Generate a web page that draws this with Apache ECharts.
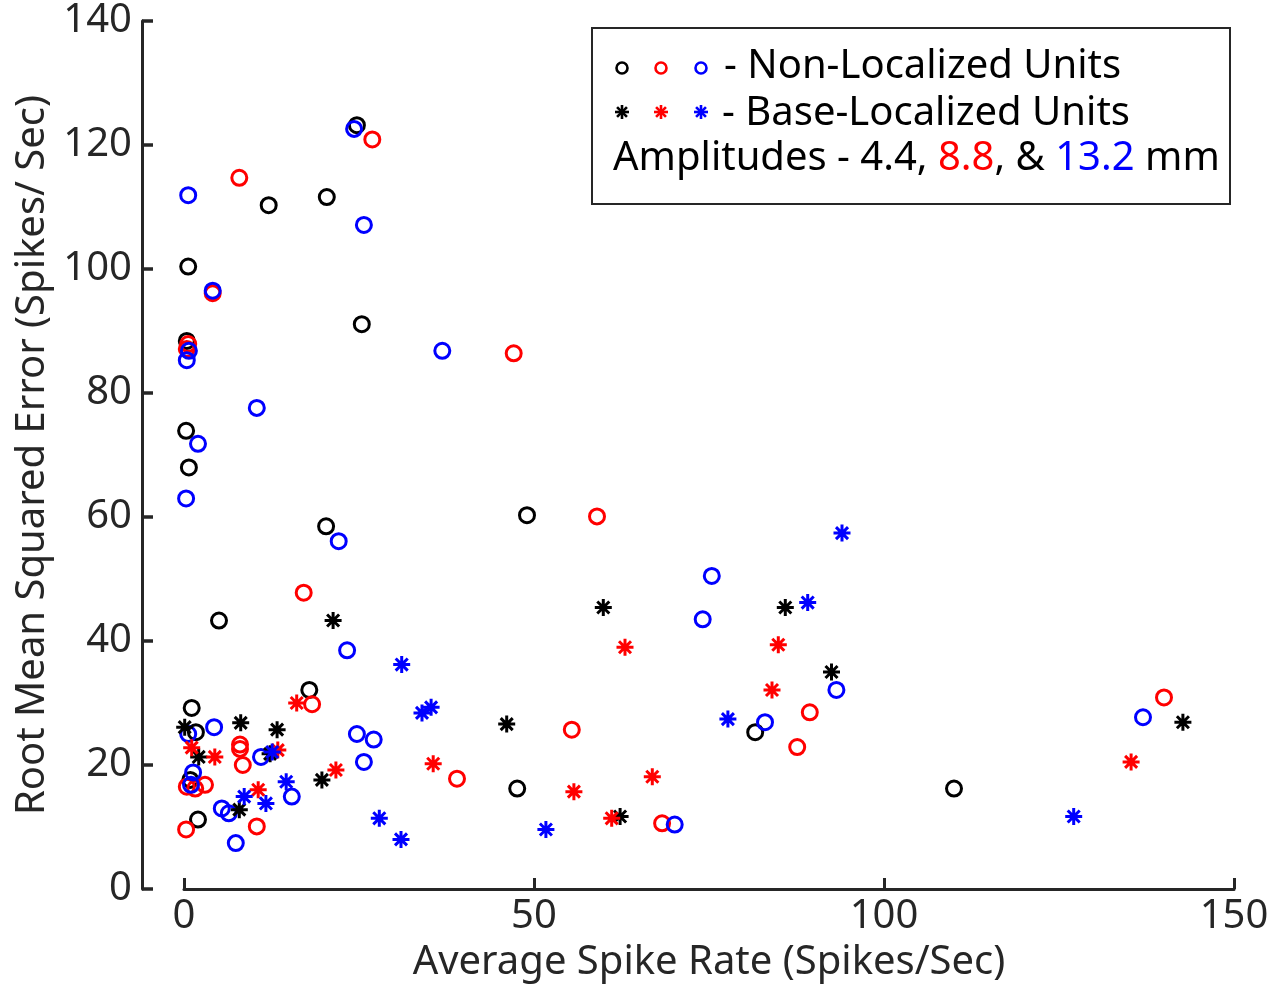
<!DOCTYPE html>
<html><head><meta charset="utf-8">
<script src="https://cdn.jsdelivr.net/npm/echarts@6/dist/echarts.min.js"></script>
<style>html,body{margin:0;padding:0;background:#fff}#c{width:1273px;height:988px}</style>
</head><body><div id="c"></div>
<script>
// ---- chart data ----
const xAxisName = 'Average Spike Rate (Spikes/Sec)';
const yAxisName = 'Root Mean Squared Error (Spikes/ Sec)';
const xMin = 0, xMax = 150, xStep = 50;
const yMin = 0, yMax = 140, yStep = 20;

// Non-Localized Units (circles), amplitude 4.4 / 8.8 / 13.2 mm
const nonLoc44 = [[24.7,123.2],[12.1,110.3],[20.4,111.6],[0.6,100.4],[25.4,91.1],[0.4,88.4],[0.3,73.9],[0.7,68.0],[20.3,58.5],[49.0,60.3],[5.0,43.3],[17.9,32.1],[1.1,29.2],[1.7,25.3],[81.6,25.3],[0.9,17.6],[2.0,11.2],[47.6,16.2],[110.0,16.2]];
const nonLoc88 = [[26.9,120.9],[7.9,114.7],[4.1,96.1],[0.6,87.9],[0.4,87.1],[47.1,86.4],[59.0,60.1],[17.1,47.8],[18.3,29.8],[8.0,23.3],[8.0,22.6],[8.4,20.0],[55.4,25.7],[39.0,17.8],[89.4,28.5],[87.6,22.9],[140.0,30.9],[68.3,10.6],[10.4,10.1],[0.3,9.6],[0.4,16.5],[1.6,16.2],[3.0,16.8]];
const nonLoc132 = [[24.3,122.6],[0.6,111.9],[25.7,107.1],[4.1,96.5],[36.9,86.8],[0.7,86.8],[0.4,85.3],[10.4,77.6],[2.0,71.8],[0.3,63.0],[22.1,56.1],[75.4,50.5],[74.1,43.5],[23.3,38.5],[0.6,25.0],[4.3,26.1],[24.7,25.0],[27.1,24.1],[25.7,20.5],[11.0,21.3],[93.2,32.1],[83.0,26.9],[137.0,27.7],[70.1,10.4],[15.4,14.9],[1.3,18.8],[1.0,16.8],[5.4,13.0],[6.4,12.2],[7.4,7.4]];

// Base-Localized Units (asterisks), amplitude 4.4 / 8.8 / 13.2 mm
const baseLoc44 = [[21.3,43.3],[59.9,45.4],[85.9,45.4],[92.5,35.0],[142.7,26.9],[46.1,26.6],[8.1,26.8],[13.3,25.7],[0.1,26.1],[2.1,21.3],[12.3,21.8],[19.7,17.6],[7.9,12.8],[62.3,11.7]];
const baseLoc88 = [[63.0,39.0],[84.9,39.4],[84.0,32.1],[66.9,18.1],[55.7,15.7],[61.1,11.4],[135.3,20.5],[35.6,20.2],[21.7,19.2],[16.1,30.0],[13.4,22.4],[10.6,16.0],[4.4,21.3],[1.1,22.8]];
const baseLoc132 = [[94.0,57.4],[89.1,46.2],[77.7,27.4],[127.1,11.7],[51.7,9.6],[31.1,36.2],[34.0,28.4],[35.3,29.3],[27.9,11.4],[31.0,8.0],[14.6,17.3],[11.7,13.8],[8.6,14.9],[12.6,22.1]];

const legendNonLoc = '- Non-Localized Units';
const legendBaseLoc = '- Base-Localized Units';
const amplitudeLabels = ['4.4', '8.8', '13.2'];

// ---- styling ----
const FONT = '"Noto Sans", "Open Sans", sans-serif';
const AX = '#262626';
const COLORS = ['#000000', '#ff0000', '#0000ff'];
const ASTERISK = 'path://M0,-10L0,10M-10,0L10,0M-7.07,-7.07L7.07,7.07M-7.07,7.07L7.07,-7.07';

function circleSeries(data, color) {
  return { type: 'scatter', data, symbol: 'circle', symbolSize: 15,
    itemStyle: { color: 'rgba(0,0,0,0)', borderColor: color, borderWidth: 3, opacity: 1 },
    emphasis: { disabled: true }, silent: true };
}
function starSeries(data, color) {
  return { type: 'scatter', data, symbol: ASTERISK, symbolSize: 17,
    itemStyle: { color: 'rgba(0,0,0,0)', borderColor: color, borderWidth: 3, opacity: 1 },
    emphasis: { disabled: true }, silent: true };
}

function legendStar(cx, cy, color) {
  const r = 7, d = r * 0.707;
  const segs = [[0,-r,0,r],[-r,0,r,0],[-d,-d,d,d],[-d,d,d,-d]];
  return { type: 'group', x: cx, y: cy, children: segs.map(s => ({
    type: 'line', shape: { x1: s[0], y1: s[1], x2: s[2], y2: s[3] },
    style: { stroke: color, lineWidth: 2.6 } })) };
}
function legendCircle(cx, cy, color) {
  return { type: 'circle', shape: { cx, cy, r: 5.5 }, style: { fill: null, stroke: color, lineWidth: 2.6 } };
}

const legendX = [622, 661, 701];
const graphic = [
  { type: 'rect', shape: { x: 592, y: 28, width: 638, height: 176 }, style: { fill: '#fff', stroke: AX, lineWidth: 2 } },
  ...legendX.map((x, i) => legendCircle(x, 68, COLORS[i])),
  ...legendX.map((x, i) => legendStar(x, 112, COLORS[i])),
  { type: 'text', x: 724, y: 67, style: { text: legendNonLoc, fontFamily: FONT, fontSize: 40, fill: '#000', verticalAlign: 'middle' } },
  { type: 'text', x: 722, y: 114, style: { text: legendBaseLoc, fontFamily: FONT, fontSize: 40, fill: '#000', verticalAlign: 'middle' } },
  { type: 'text', x: 613, y: 159, style: {
      text: '{k|Amplitudes - ' + amplitudeLabels[0] + ', }{r|' + amplitudeLabels[1] + '}{k|, & }{b|' + amplitudeLabels[2] + '}{k| mm}',
      fontFamily: FONT, fontSize: 40, verticalAlign: 'middle',
      rich: {
        k: { fill: '#000', fontFamily: FONT, fontSize: 40 },
        r: { fill: COLORS[1], fontFamily: FONT, fontSize: 40 },
        b: { fill: COLORS[2], fontFamily: FONT, fontSize: 40 }
      } } }
];

const chart = echarts.init(document.getElementById('c'), null, { renderer: 'canvas' });
chart.setOption({
  animation: false,
  backgroundColor: '#fff',
  grid: { left: 184, right: 39, top: 21, bottom: 93, containLabel: false },
  xAxis: {
    type: 'value', min: xMin, max: xMax, interval: xStep,
    name: xAxisName, nameLocation: 'middle', nameGap: 54,
    nameTextStyle: { fontFamily: FONT, fontSize: 40, color: AX },
    axisLine: { show: true, onZero: false, lineStyle: { color: AX, width: 3 } },
    axisTick: { show: true, inside: true, length: 11, lineStyle: { color: AX, width: 3 } },
    axisLabel: { fontFamily: FONT, fontSize: 40, color: AX, margin: 8 },
    splitLine: { show: false }
  },
  yAxis: {
    type: 'value', min: yMin, max: yMax, interval: yStep, offset: 42,
    name: yAxisName, nameLocation: 'middle', nameGap: 80,
    nameTextStyle: { fontFamily: FONT, fontSize: 40, color: AX },
    axisLine: { show: true, onZero: false, lineStyle: { color: AX, width: 3 } },
    axisTick: { show: true, inside: true, length: 11, lineStyle: { color: AX, width: 3.5 } },
    axisLabel: { fontFamily: FONT, fontSize: 40, color: AX, margin: 10 },
    splitLine: { show: false }
  },
  series: [
    circleSeries(nonLoc44, COLORS[0]),
    circleSeries(nonLoc88, COLORS[1]),
    circleSeries(nonLoc132, COLORS[2]),
    starSeries(baseLoc44, COLORS[0]),
    starSeries(baseLoc88, COLORS[1]),
    starSeries(baseLoc132, COLORS[2])
  ],
  graphic
});
</script></body></html>
